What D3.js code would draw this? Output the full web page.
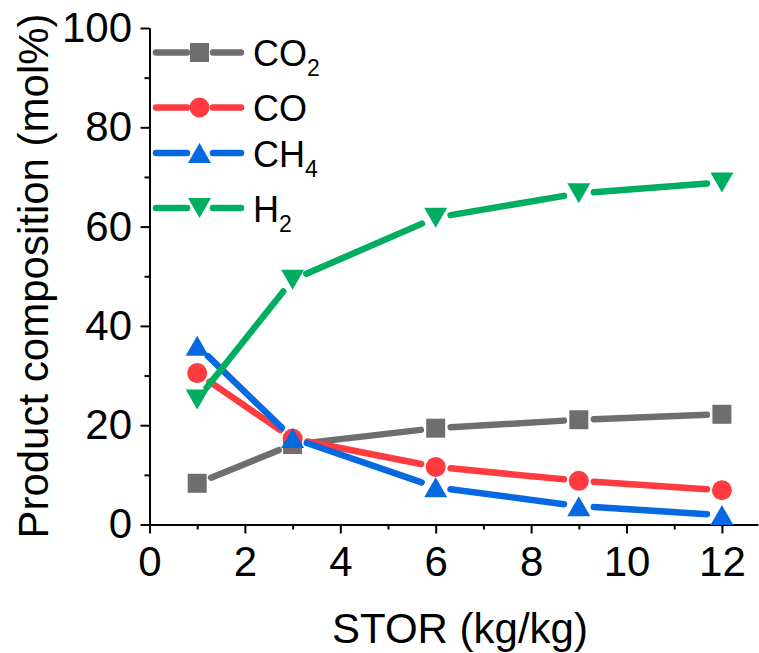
<!DOCTYPE html>
<html>
<head>
<meta charset="utf-8">
<script src="https://cdn.jsdelivr.net/npm/d3@7/dist/d3.min.js"></script>
<style>
  body { margin: 0; background: #fff; }
  text { font-family: "Liberation Sans", Arial, sans-serif; fill: #000; }
</style>
</head>
<body>
<svg id="chart" width="759" height="653"></svg>
<script>
// data
const stor = [1, 3, 6, 9, 12];
const co2 = [8.3, 16.1, 19.4, 21.1, 22.2];
const co = [30.5, 17.3, 11.6, 8.8, 6.9];
const ch4 = [36.0, 17.4, 7.5, 3.7, 1.9];
const h2 = [25.2, 49.3, 61.8, 66.7, 68.9];

const seriesNames = [['CO', '2'], ['CO', ''], ['CH', '4'], ['H', '2']];
const seriesColors = ['#6e6e6e', '#ff3b3f', '#0769e0', '#00ad61'];
const seriesMarkers = ['square', 'circle', 'up', 'down'];
const xTicks = [0, 2, 4, 6, 8, 10, 12];
const yTicks = [0, 20, 40, 60, 80, 100];

const series = [co2, co, ch4, h2].map((vals, i) => ({
  name: seriesNames[i], color: seriesColors[i], marker: seriesMarkers[i],
  points: stor.map((s, j) => ({ x: s, y: vals[j] })),
}));

const svg = d3.select('#chart');
const x = d3.scaleLinear().domain([0, 12.75]).range([149.5, 757.7]);
const y = d3.scaleLinear().domain([0, 100]).range([524.5, 28]);

// marker path builder
function markerPath(type) {
  if (type === 'square') return d3.symbol(d3.symbolSquare, 19 * 19)();
  if (type === 'circle') return d3.symbol(d3.symbolCircle, Math.PI * 10 * 10)();
  if (type === 'up') return 'M0,-10L11.5,10L-11.5,10Z';
  return 'M0,10L11.5,-10L-11.5,-10Z';
}

// axes
const axG = svg.append('g');

axG.append('g').attr('transform', `translate(0,${y(0)})`)
  .call(d3.axisBottom(x).tickValues(xTicks).tickSize(9).tickSizeOuter(0).tickPadding(13));
axG.append('g').attr('transform', `translate(0,${y(0)})`)
  .call(d3.axisBottom(x).tickValues([1, 3, 5, 7, 9, 11]).tickSize(5).tickSizeOuter(0).tickFormat(''));

axG.append('g').attr('transform', `translate(${x(0)},0)`)
  .call(d3.axisLeft(y).tickValues(yTicks).tickSize(9).tickSizeOuter(0).tickPadding(8.5));
axG.append('g').attr('transform', `translate(${x(0)},0)`)
  .call(d3.axisLeft(y).tickValues([10, 30, 50, 70, 90]).tickSize(5).tickSizeOuter(0).tickFormat(''));

axG.selectAll('.domain, .tick line').attr('stroke', '#000').attr('stroke-width', 2);
axG.selectAll('.tick text').attr('font-size', 42).attr('font-family', '"Liberation Sans", Arial, sans-serif').attr('fill', '#000');

// axis titles
svg.append('text')
  .attr('x', 460).attr('y', 643)
  .attr('text-anchor', 'middle').attr('font-size', 42)
  .text('STOR (kg/kg)');
svg.append('text')
  .attr('transform', 'translate(48,276) rotate(-90)')
  .attr('text-anchor', 'middle').attr('font-size', 42)
  .text('Product composition (mol%)');

// series: line segments with gaps around markers, then markers
const gap = 15;
series.forEach(s => {
  const g = svg.append('g');
  const segs = d3.pairs(s.points).map(([a, b]) => {
    const x1 = x(a.x), y1 = y(a.y), x2 = x(b.x), y2 = y(b.y);
    const len = Math.hypot(x2 - x1, y2 - y1);
    const ux = (x2 - x1) / len, uy = (y2 - y1) / len;
    return { x1: x1 + ux * gap, y1: y1 + uy * gap, x2: x2 - ux * gap, y2: y2 - uy * gap, ok: len > 2 * gap };
  }).filter(d => d.ok);
  g.selectAll('line').data(segs).join('line')
    .attr('x1', d => d.x1).attr('y1', d => d.y1)
    .attr('x2', d => d.x2).attr('y2', d => d.y2)
    .attr('stroke', s.color).attr('stroke-width', 6.5).attr('stroke-linecap', 'round');
  g.selectAll('path').data(s.points).join('path')
    .attr('d', markerPath(s.marker))
    .attr('transform', d => `translate(${x(d.x)},${y(d.y)})`)
    .attr('fill', s.color);
});

// legend
const legendRows = [52.5, 107.5, 153, 208];
const legend = svg.append('g');
series.forEach((s, i) => {
  const ly = legendRows[i];
  const row = legend.append('g').attr('transform', `translate(0,${ly})`);
  row.append('line').attr('x1', 156).attr('x2', 187).attr('y1', 0).attr('y2', 0)
    .attr('stroke', s.color).attr('stroke-width', 6.5).attr('stroke-linecap', 'round');
  row.append('line').attr('x1', 213).attr('x2', 241).attr('y1', 0).attr('y2', 0)
    .attr('stroke', s.color).attr('stroke-width', 6.5).attr('stroke-linecap', 'round');
  row.append('path').attr('d', markerPath(s.marker))
    .attr('transform', 'translate(199.5,0)').attr('fill', s.color);
  const t = row.append('text').attr('x', 253).attr('y', 13.5).attr('font-size', 36);
  t.append('tspan').text(s.name[0]);
  if (s.name[1]) t.append('tspan').attr('font-size', 23).attr('dy', 10).text(s.name[1]);
});
</script>
</body>
</html>
